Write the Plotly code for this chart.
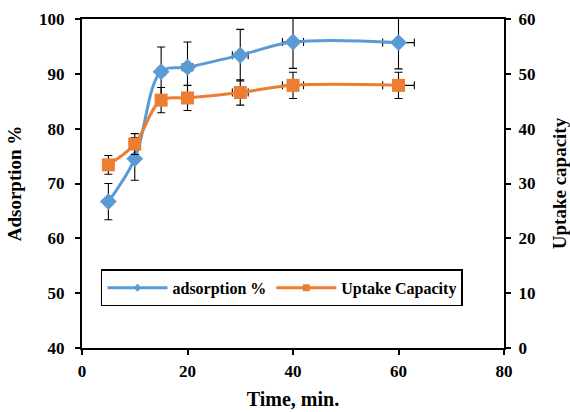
import plotly.graph_objects as go

# Contact time (min) and measured responses
time_min = [5, 10, 15, 20, 30, 40, 60]
adsorption_pct = [66.7, 74.5, 90.4, 91.2, 93.4, 95.8, 95.7]
uptake_capacity = [33.4, 37.2, 45.2, 45.6, 46.6, 47.9, 47.9]

# Error bar half-widths
time_err = [0.25, 0.5, 0.75, 1.0, 1.5, 2.0, 3.0]
adsorption_err = [3.3, 3.9, 4.5, 4.6, 4.7, 4.8, 4.8]
uptake_err = [1.7, 1.9, 2.3, 2.3, 2.3, 2.4, 2.4]

BLUE = "#5B9BD5"
ORANGE = "#ED7D31"
FONT = "Liberation Serif"

err_style = dict(type="data", color="black", thickness=1.1, width=4, visible=True)

fig = go.Figure()

fig.add_trace(go.Scatter(
    x=time_min, y=adsorption_pct, name="adsorption %",
    mode="lines+markers",
    line=dict(color=BLUE, width=3, shape="spline", smoothing=1),
    marker=dict(symbol="diamond", size=13, color=BLUE),
    error_y=dict(array=adsorption_err, **err_style),
    error_x=dict(array=time_err, **err_style),
    showlegend=False, yaxis="y",
))

fig.add_trace(go.Scatter(
    x=time_min, y=uptake_capacity, name="Uptake Capacity",
    mode="lines+markers",
    line=dict(color=ORANGE, width=3, shape="spline", smoothing=1),
    marker=dict(symbol="square", size=13, color=ORANGE),
    error_y=dict(array=uptake_err, **err_style),
    error_x=dict(array=time_err, **err_style),
    showlegend=False, yaxis="y2",
))

# Legend entries with compact markers
fig.add_trace(go.Scatter(
    x=[None], y=[None], name="adsorption %", mode="lines+markers",
    line=dict(color=BLUE, width=3), marker=dict(symbol="diamond", size=6, color=BLUE),
))
fig.add_trace(go.Scatter(
    x=[None], y=[None], name="Uptake Capacity", mode="lines+markers",
    line=dict(color=ORANGE, width=3), marker=dict(symbol="square", size=7, color=ORANGE),
    yaxis="y2",
))

tickfont = dict(family=FONT, size=17, color="black", weight="bold")
xtitlefont = dict(family=FONT, size=20, color="black", weight="bold")
ytitlefont = dict(family=FONT, size=19, color="black", weight="bold")

axis_common = dict(
    showline=True, linecolor="black", linewidth=2,
    ticks="outside", ticklen=5, tickwidth=1.5, tickcolor="black",
    showgrid=False, zeroline=False, tickfont=tickfont, automargin=False,
)

fig.update_layout(
    width=570, height=412,
    margin=dict(l=82, r=66, t=19, b=64),
    paper_bgcolor="white", plot_bgcolor="white",
    font=dict(family=FONT, color="black"),
    xaxis=dict(
        range=[0, 80], dtick=20, tick0=0, mirror=True, ticklabelstandoff=2,
        title=dict(text="Time, min.", font=xtitlefont, standoff=12),
        **axis_common,
    ),
    yaxis=dict(
        range=[40, 100], dtick=10, ticklabelstandoff=7,
        title=dict(text="Adsorption %", font=ytitlefont, standoff=12),
        **axis_common,
    ),
    yaxis2=dict(
        range=[0, 60], dtick=10, overlaying="y", side="right", ticklabelstandoff=4,
        title=dict(text="Uptake capacity", font=ytitlefont, standoff=22),
        **axis_common,
    ),
    legend=dict(
        orientation="h", x=0.045, y=0.239, xanchor="left", yanchor="top",
        bordercolor="black", borderwidth=1.5, bgcolor="white",
        font=dict(family=FONT, size=16, color="black", weight="bold"),
        itemwidth=60,
    ),
)

fig.write_html("out.html")
